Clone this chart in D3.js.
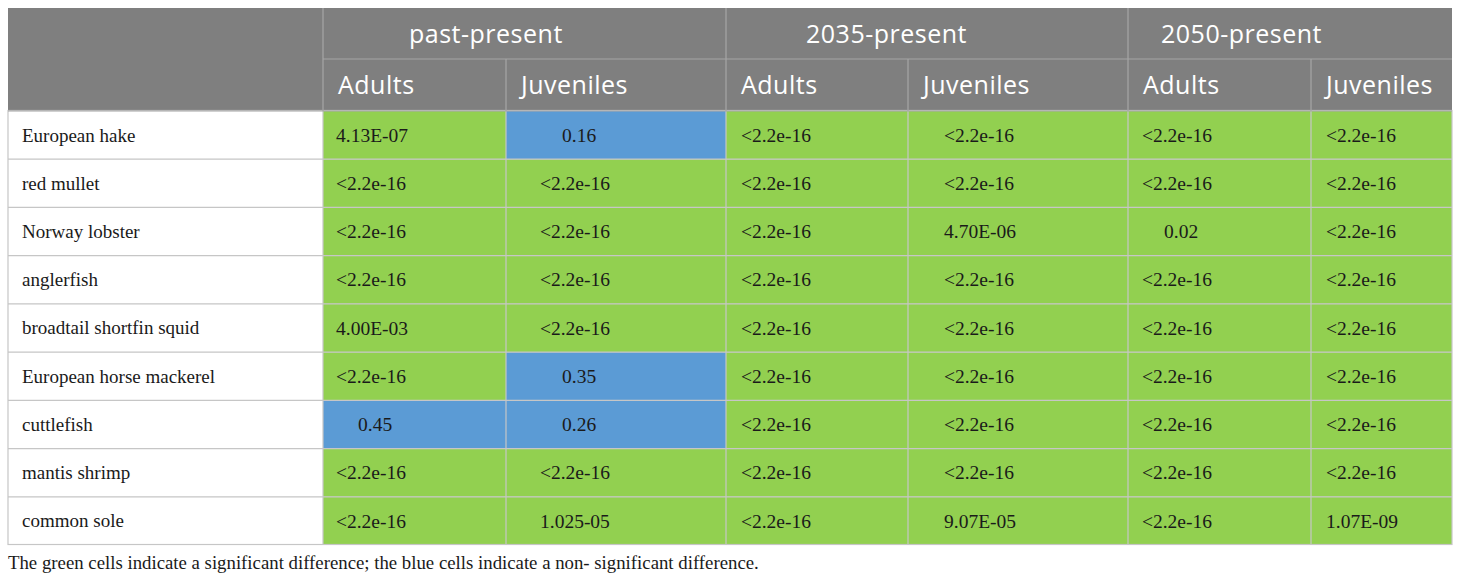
<!DOCTYPE html>
<html>
<head>
<meta charset="utf-8">
<script src="https://cdn.jsdelivr.net/npm/d3@7"></script>
<style>
  body { margin: 0; background: #fff; }
</style>
</head>
<body>
<div id="table"></div>
<script>
// species (rows) and comparison columns
const species = ["European hake", "red mullet", "Norway lobster", "anglerfish",
    "broadtail shortfin squid", "European horse mackerel", "cuttlefish",
    "mantis shrimp", "common sole"];
const periods = ["past-present", "2035-present", "2050-present"];
const stages = ["Adults", "Juveniles"];

// p-values, one array per column
const pastAdults = ["4.13E-07", "<2.2e-16", "<2.2e-16", "<2.2e-16", "4.00E-03", "<2.2e-16", "0.45", "<2.2e-16", "<2.2e-16"];
const pastJuveniles = ["0.16", "<2.2e-16", "<2.2e-16", "<2.2e-16", "<2.2e-16", "0.35", "0.26", "<2.2e-16", "1.025-05"];
const y2035Adults = ["<2.2e-16", "<2.2e-16", "<2.2e-16", "<2.2e-16", "<2.2e-16", "<2.2e-16", "<2.2e-16", "<2.2e-16", "<2.2e-16"];
const y2035Juveniles = ["<2.2e-16", "<2.2e-16", "4.70E-06", "<2.2e-16", "<2.2e-16", "<2.2e-16", "<2.2e-16", "<2.2e-16", "9.07E-05"];
const y2050Adults = ["<2.2e-16", "<2.2e-16", "0.02", "<2.2e-16", "<2.2e-16", "<2.2e-16", "<2.2e-16", "<2.2e-16", "<2.2e-16"];
const y2050Juveniles = ["<2.2e-16", "<2.2e-16", "<2.2e-16", "<2.2e-16", "<2.2e-16", "<2.2e-16", "<2.2e-16", "<2.2e-16", "1.07E-09"];

const footnote = "The green cells indicate a significant difference; the blue cells indicate a non- significant difference.";

const columns = [pastAdults, pastJuveniles, y2035Adults, y2035Juveniles, y2050Adults, y2050Juveniles];

const width = 1460;
const height = 582;
const tableLeft = 8, tableTop = 8;
const labelWidth = 315;
const colWidths = [183, 220, 182, 220, 183, 141];
const colPad = [13, 34, 15, 36, 14, 15];
const headH = [51, 52];
const tableBottom = 545;

const green = "#92d050", blue = "#5b9bd5", gray = "#7f7f7f";

// column edges from cumulative widths
const colX = [tableLeft + labelWidth];
colWidths.forEach((w, i) => colX.push(colX[i] + w));
const tableRight = colX[colX.length - 1];

const bodyTop = tableTop + headH[0] + headH[1];
const y = d3.scaleBand()
    .domain(species)
    .range([bodyTop, tableBottom]);

// "<" values are below threshold, the odd "1.025-05" does not parse and is tiny anyway
function significant(v) {
    const p = Number(v.replace("<", ""));
    return !(p >= 0.05);
}

const svg = d3.select("#table").append("svg")
    .attr("width", width)
    .attr("height", height);

// header background
svg.append("rect")
    .attr("x", tableLeft).attr("y", tableTop)
    .attr("width", tableRight - tableLeft).attr("height", headH[0] + headH[1])
    .attr("fill", gray);

const cells = [];
columns.forEach((col, c) => col.forEach((v, r) => cells.push({ c, r, v })));

const body = svg.append("g");

body.selectAll("rect.label")
    .data(species)
    .enter()
    .append("rect")
    .attr("x", tableLeft)
    .attr("y", d => y(d))
    .attr("width", labelWidth)
    .attr("height", y.bandwidth())
    .attr("fill", "#fff");

body.selectAll("rect.cell")
    .data(cells)
    .enter()
    .append("rect")
    .attr("x", d => colX[d.c])
    .attr("y", d => y(species[d.r]))
    .attr("width", d => colWidths[d.c])
    .attr("height", y.bandwidth())
    .attr("fill", d => significant(d.v) ? green : blue);

// grid lines
const grid = svg.append("g")
    .attr("stroke", "#c6c6c6")
    .attr("stroke-width", 1.2);

grid.selectAll("line.h")
    .data(species.slice(1))
    .enter()
    .append("line")
    .attr("x1", tableLeft).attr("x2", tableRight)
    .attr("y1", d => y(d)).attr("y2", d => y(d));

grid.selectAll("line.v")
    .data(colX.slice(0, -1))
    .enter()
    .append("line")
    .attr("x1", d => d).attr("x2", d => d)
    .attr("y1", bodyTop).attr("y2", tableBottom);

grid.append("rect")
    .attr("x", tableLeft).attr("y", bodyTop - 0.5)
    .attr("width", tableRight - tableLeft).attr("height", tableBottom - bodyTop)
    .attr("fill", "none");

// header lines
const hgrid = svg.append("g")
    .attr("stroke", "#a6a6a6")
    .attr("stroke-width", 1.2);

hgrid.append("line")
    .attr("x1", colX[0]).attr("x2", tableRight)
    .attr("y1", tableTop + headH[0]).attr("y2", tableTop + headH[0]);

hgrid.selectAll("line.gv")
    .data([colX[0], colX[2], colX[4]])
    .enter()
    .append("line")
    .attr("x1", d => d).attr("x2", d => d)
    .attr("y1", tableTop).attr("y2", bodyTop);

hgrid.selectAll("line.sv")
    .data([colX[1], colX[3], colX[5]])
    .enter()
    .append("line")
    .attr("x1", d => d).attr("x2", d => d)
    .attr("y1", tableTop + headH[0]).attr("y2", bodyTop);

hgrid.append("line")
    .attr("x1", tableLeft).attr("x2", tableRight)
    .attr("y1", bodyTop).attr("y2", bodyTop);

// header text
const headFont = "'Open Sans', 'Noto Sans', sans-serif";
const groupOffset = [86, 80, 33];

svg.selectAll("text.group")
    .data(periods)
    .enter()
    .append("text")
    .attr("x", (d, i) => colX[i * 2] + groupOffset[i])
    .attr("y", tableTop + headH[0] / 2)
    .attr("dy", "0.36em")
    .attr("fill", "#fff")
    .style("font-family", headFont)
    .style("font-size", "25px")
    .style("letter-spacing", "0.5px")
    .text(d => d);

svg.selectAll("text.stage")
    .data(d3.range(6))
    .enter()
    .append("text")
    .attr("x", d => colX[d] + 15)
    .attr("y", tableTop + headH[0] + headH[1] / 2)
    .attr("dy", "0.36em")
    .attr("fill", "#fff")
    .style("font-family", headFont)
    .style("font-size", "25px")
    .style("letter-spacing", "0.5px")
    .text(d => stages[d % 2]);

// body text
const bodyFont = "'Liberation Serif', 'Times New Roman', serif";

svg.selectAll("text.species")
    .data(species)
    .enter()
    .append("text")
    .attr("x", tableLeft + 14)
    .attr("y", d => y(d) + y.bandwidth() / 2)
    .attr("dy", "0.34em")
    .attr("fill", "#1a1a1a")
    .style("font-family", bodyFont)
    .style("font-size", "19px")
    .text(d => d);

svg.selectAll("text.value")
    .data(cells)
    .enter()
    .append("text")
    .attr("x", d => colX[d.c] + colPad[d.c] + (d.v.length <= 4 ? 22 : 0))
    .attr("y", d => y(species[d.r]) + y.bandwidth() / 2)
    .attr("dy", "0.34em")
    .attr("fill", "#1a1a1a")
    .style("font-family", bodyFont)
    .style("font-size", "19.5px")
    .text(d => d.v);

svg.append("text")
    .attr("x", tableLeft)
    .attr("y", 563)
    .attr("dy", "0.34em")
    .attr("fill", "#1a1a1a")
    .style("font-family", bodyFont)
    .style("font-size", "18.8px")
    .text(footnote);
</script>
</body>
</html>
